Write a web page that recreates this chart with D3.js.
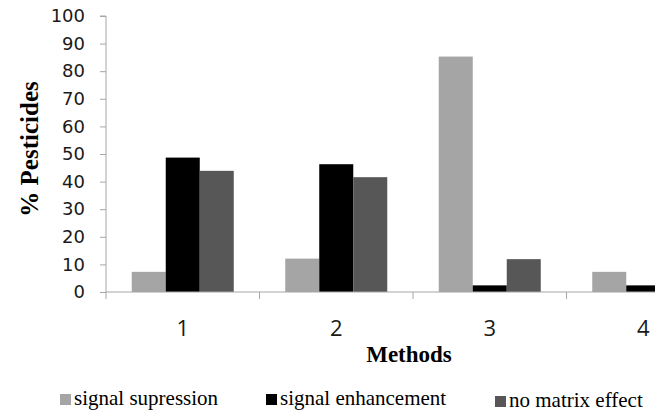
<!DOCTYPE html>
<html>
<head>
<meta charset="utf-8">
<script src="https://cdnjs.cloudflare.com/ajax/libs/d3/7.8.5/d3.min.js"></script>
<style>
    body { margin: 0; background: #fff; }
    #chart { width: 664px; height: 416px; }
</style>
</head>
<body>
<div id="chart"></div>
<script>

// data
let methods = ['1', '2', '3', '4'];
let seriesNames = ['signal supression', 'signal enhancement', 'no matrix effect'];
let signalSupression = [7.3, 12.1, 85.3, 7.3];
let signalEnhancement = [48.7, 46.3, 2.4, 2.4];
let noMatrixEffect = [43.9, 41.6, 11.9, null];   // 4th bar falls outside the picture
let yTicks = [0, 10, 20, 30, 40, 50, 60, 70, 80, 90, 100];

let seriesColors = ['#a5a5a5', '#000000', '#575757'];


class BarVis {

    constructor(parentElement) {
        this.parentElement = parentElement;
        this.initVis();
    }

    initVis() {
        let vis = this;

        vis.width = 664;
        vis.height = 416;

        vis.left = 106;
        vis.top = 16;
        vis.bottom = 292;
        vis.catStep = 153.5;
        vis.clipRight = 655;

        vis.svg = d3.select("#" + vis.parentElement).append("svg")
            .attr("width", vis.width)
            .attr("height", vis.height);

        vis.svg.append("defs").append("clipPath")
            .attr("id", "plot-clip")
            .append("rect")
            .attr("x", 0)
            .attr("y", 0)
            .attr("width", vis.clipRight)
            .attr("height", vis.height);

        // scales
        vis.x = d3.scaleBand()
            .domain(methods)
            .range([vis.left, vis.left + vis.catStep * methods.length])
            .padding(0);

        vis.xInner = d3.scaleBand()
            .domain(seriesNames)
            .range([0, vis.x.bandwidth()])
            .paddingInner(0)
            .paddingOuter(0.757);

        vis.y = d3.scaleLinear()
            .domain([0, 100])
            .range([vis.bottom, vis.top]);

        vis.plot = vis.svg.append("g")
            .attr("clip-path", "url(#plot-clip)");

        vis.wrangleData();
    }

    wrangleData() {
        let vis = this;

        let cols = [signalSupression, signalEnhancement, noMatrixEffect];
        vis.displayData = [];
        methods.forEach((m, i) => {
            seriesNames.forEach((s, j) => {
                if (cols[j][i] !== null) {
                    vis.displayData.push({method: m, series: s, value: cols[j][i], color: seriesColors[j]});
                }
            });
        });

        vis.updateVis();
    }

    updateVis() {
        let vis = this;

        // bars
        vis.plot.selectAll(".bar")
            .data(vis.displayData)
            .enter().append("rect")
            .attr("class", "bar")
            .attr("x", d => vis.x(d.method) + vis.xInner(d.series))
            .attr("width", vis.xInner.bandwidth())
            .attr("y", d => vis.y(d.value))
            .attr("height", d => vis.y(0) - vis.y(d.value))
            .attr("fill", d => d.color);

        // y axis
        let yAxis = d3.axisLeft(vis.y)
            .tickValues(yTicks)
            .tickSize(6)
            .tickPadding(15);

        let yg = vis.svg.append("g")
            .attr("class", "axis")
            .attr("transform", `translate(${vis.left}, 0)`)
            .call(yAxis);

        yg.select(".domain")
            .attr("d", `M-6,${vis.top}H0V${vis.bottom}`)
            .attr("stroke", "#a6a6a6");
        yg.selectAll(".tick line").attr("stroke", "#a6a6a6");
        yg.selectAll(".tick text")
            .attr("fill", "#1a1a1a")
            .style("font-family", "'DejaVu Sans', sans-serif")
            .style("font-size", "18px");

        // x axis: ticks at category boundaries
        let xg = vis.plot.append("g").attr("class", "axis");
        let right = vis.left + vis.catStep * methods.length;

        xg.append("line")
            .attr("x1", vis.left).attr("x2", right)
            .attr("y1", vis.y(0)).attr("y2", vis.y(0))
            .attr("stroke", "#a6a6a6");

        let bounds = methods.map(m => vis.x(m)).concat([right]);
        xg.selectAll(".xtick")
            .data(bounds)
            .enter().append("line")
            .attr("class", "xtick")
            .attr("x1", d => d).attr("x2", d => d)
            .attr("y1", vis.y(0)).attr("y2", vis.y(0) + 7)
            .attr("stroke", "#a6a6a6");

        vis.svg.selectAll(".xlabel")
            .data(methods)
            .enter().append("text")
            .attr("class", "xlabel")
            .attr("x", d => vis.x(d) + vis.x.bandwidth() / 2)
            .attr("y", 336)
            .attr("text-anchor", "middle")
            .attr("fill", "#1a1a1a")
            .style("font-family", "'Open Sans', sans-serif")
            .style("font-size", "22px")
            .text(d => d);

        // axis titles
        vis.svg.append("text")
            .attr("x", 409)
            .attr("y", 362)
            .attr("text-anchor", "middle")
            .style("font-family", "'Liberation Serif', serif")
            .style("font-weight", "bold")
            .style("font-size", "23px")
            .text("Methods");

        vis.svg.append("text")
            .attr("transform", "translate(38, 149) rotate(-90)")
            .attr("text-anchor", "middle")
            .style("font-family", "'Liberation Serif', serif")
            .style("font-weight", "bold")
            .style("font-size", "25px")
            .text("% Pesticides");

        // legend
        let legendX = [60, 266, 495];
        let legendDy = [0, 0, 2];

        let legend = vis.svg.selectAll(".legend")
            .data(seriesNames)
            .enter().append("g")
            .attr("class", "legend")
            .attr("transform", (d, i) => `translate(${legendX[i]}, ${394 + legendDy[i]})`);

        legend.append("rect")
            .attr("width", 11)
            .attr("height", 11)
            .attr("fill", (d, i) => seriesColors[i]);

        legend.append("text")
            .attr("x", 14)
            .attr("y", 11)
            .style("font-family", "'Liberation Serif', serif")
            .style("font-size", "21px")
            .text(d => d);
    }
}

new BarVis("chart");

</script>
</body>
</html>
